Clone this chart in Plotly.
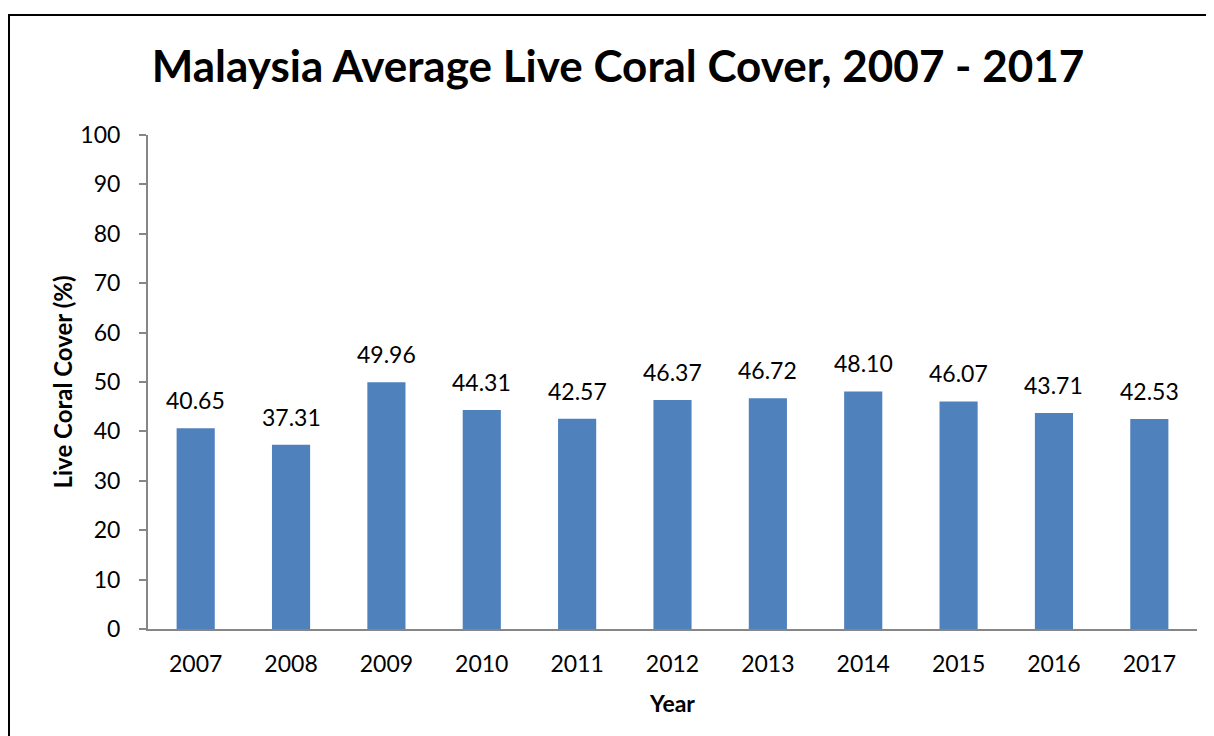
import plotly.graph_objects as go

years = ["2007", "2008", "2009", "2010", "2011", "2012", "2013", "2014", "2015", "2016", "2017"]
cover = [40.65, 37.31, 49.96, 44.31, 42.57, 46.37, 46.72, 48.10, 46.07, 43.71, 42.53]
labels = ["40.65", "37.31", "49.96", "44.31", "42.57", "46.37", "46.72", "48.10", "46.07", "43.71", "42.53"]

W, H = 1214, 736
OFF = 8  # page body margin
L, R, T, B = 148 - OFF, 25, 135 - OFF, 115
pw, ph = W - L - R, H - T - B

FONT = "Lato"

fig = go.Figure(go.Bar(x=years, y=cover, marker=dict(color="#4F81BD", line=dict(width=0)),
                       hoverinfo="x+y"))

for i, (v, lab) in enumerate(zip(cover, labels)):
    fig.add_annotation(x=i, y=v, text=lab, showarrow=False, yanchor="bottom",
                       yshift=12, font=dict(family=FONT, size=23, color="black"))

# outer chart border
fig.add_shape(type="rect", xref="paper", yref="paper",
              x0=(9 - OFF - L) / pw, x1=(W + 20 - L) / pw,
              y0=-(B + 20) / ph, y1=(H - B - (15 - OFF)) / ph,
              line=dict(color="black", width=2), fillcolor="rgba(0,0,0,0)", layer="below")

fig.update_layout(
    width=W, height=H,
    margin=dict(l=L, r=R, t=T, b=B, autoexpand=False),
    plot_bgcolor="white", paper_bgcolor="white",
    bargap=0.6, showlegend=False,
    title=dict(text="<b>Malaysia Average Live Coral Cover, 2007 - 2017</b>",
               x=(618 - OFF) / W, xanchor="center", y=1 - (67 - OFF) / H, yanchor="middle",
               font=dict(family=FONT, size=44, color="black")),
    font=dict(family=FONT, color="black"),
)
fig.update_xaxes(type="category", range=[-0.5, len(years) - 0.5],
                 showline=True, linecolor="#868686", linewidth=2, ticks="",
                 tickfont=dict(family=FONT, size=23, color="black"),
                 ticklabelstandoff=13,
                 title=dict(text="<b>Year</b>", font=dict(family=FONT, size=23, color="black"), standoff=20),
                 showgrid=False)
fig.update_yaxes(range=[0, 100], dtick=10, showline=True, linecolor="#868686", linewidth=2,
                 ticks="outside", ticklen=7, tickcolor="#868686", tickwidth=2,
                 tickfont=dict(family=FONT, size=23, color="black"),
                 ticklabelstandoff=14,
                 title=dict(text="<b>Live Coral Cover (%)</b>", font=dict(family=FONT, size=24, color="black"), standoff=1),
                 showgrid=False, zeroline=False)

fig.write_html("out.html")
